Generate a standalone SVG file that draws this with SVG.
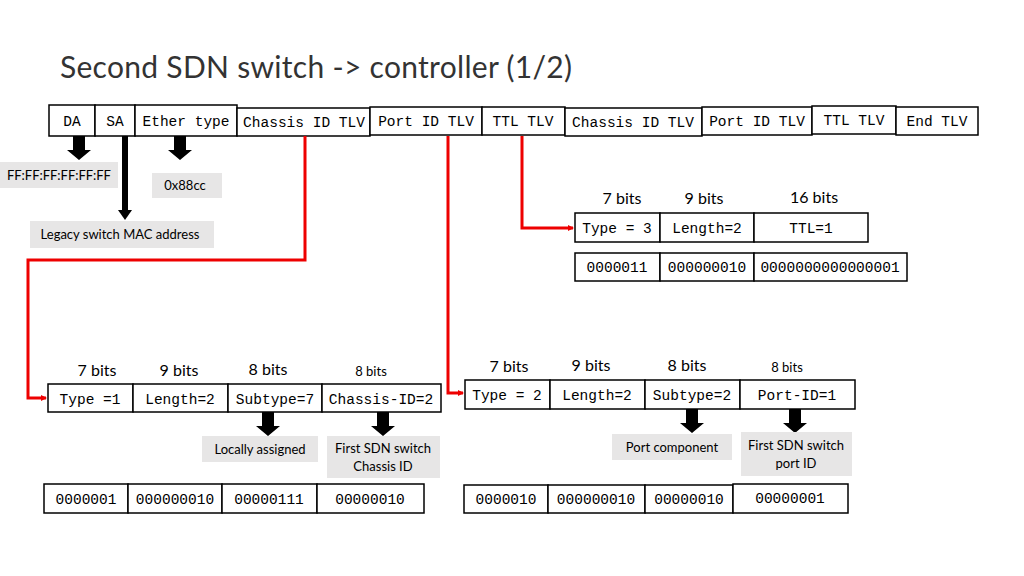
<svg xmlns="http://www.w3.org/2000/svg" width="1024" height="576" viewBox="0 0 1024 576">
<style>
.b{fill:#fff;stroke:#000;stroke-width:1.5}
.m{font-family:"Liberation Mono","DejaVu Sans Mono",monospace;font-size:14.5px;text-anchor:middle}
.s{font-family:Lato,"Liberation Sans",sans-serif;font-size:13px;text-anchor:middle}
.h{font-family:Lato,"Liberation Sans",sans-serif;font-size:16px;text-anchor:middle}
.g{fill:#e7e6e6}
.r{fill:none;stroke:#e00;stroke-width:3}
</style>
<defs>
<marker id="ra" markerWidth="6" markerHeight="6" refX="5" refY="3" orient="auto" markerUnits="userSpaceOnUse"><path d="M0,0L6,3L0,6z" fill="#e00"/></marker>
<path id="ba" d="M-6,0H6V14H12L0,24L-12,14H-6z" fill="#000"/>
</defs>
<text x="60" y="78" font-family="Lato,'Liberation Sans',sans-serif" font-size="30" fill="#333" textLength="512">Second SDN switch -&gt; controller (1/2)</text>
<g id="frame">
<rect class="b" x="49" y="105" width="46" height="31"/><text class="m" x="72" y="126">DA</text>
<rect class="b" x="95" y="105" width="40" height="31"/><text class="m" x="115" y="126">SA</text>
<rect class="b" x="135" y="105" width="102" height="31"/><text class="m" x="186" y="126">Ether type</text>
<rect class="b" x="237" y="108" width="133" height="28"/><text class="m" x="304" y="127">Chassis ID TLV</text>
<rect class="b" x="370" y="107" width="112" height="28"/><text class="m" x="426" y="126">Port ID TLV</text>
<rect class="b" x="482" y="107" width="83" height="28"/><text class="m" x="523" y="126">TTL TLV</text>
<rect class="b" x="565" y="108" width="137" height="28"/><text class="m" x="633" y="127">Chassis ID TLV</text>
<rect class="b" x="702" y="107" width="110" height="28"/><text class="m" x="757" y="126">Port ID TLV</text>
<rect class="b" x="812" y="106" width="84" height="28"/><text class="m" x="854" y="125">TTL TLV</text>
<rect class="b" x="896" y="107" width="82" height="28"/><text class="m" x="937" y="126">End TLV</text>
</g>
<g id="annot">
<use href="#ba" x="79" y="136"/>
<rect class="g" x="0" y="162" width="118" height="26"/><text class="s" x="59" y="180">FF:FF:FF:FF:FF:FF</text>
<rect x="122" y="136" width="6" height="76"/><path d="M118,210H132L125,220z"/>
<rect class="g" x="30" y="221" width="184" height="27"/><text class="s" x="120" y="239">Legacy switch MAC address</text>
<use href="#ba" x="180" y="136"/>
<rect class="g" x="152" y="173" width="70" height="25"/><text class="s" x="185" y="190">0x88cc</text>
</g>
<g id="connectors">
<path class="r" d="M305,136V260H28V398H46" marker-end="url(#ra)"/>
<path class="r" d="M448,136V393H463" marker-end="url(#ra)"/>
<path class="r" d="M522,136V228H573" marker-end="url(#ra)"/>
</g>
<g id="ttl">
<text class="h" x="622" y="204">7 bits</text><text class="h" x="704" y="204">9 bits</text><text class="h" x="814" y="203">16 bits</text>
<rect class="b" x="575" y="213" width="85" height="29"/><text class="m" x="617" y="233">Type = 3</text>
<rect class="b" x="660" y="213" width="94" height="29"/><text class="m" x="707" y="233">Length=2</text>
<rect class="b" x="754" y="213" width="114" height="29"/><text class="m" x="811" y="233">TTL=1</text>
<rect class="b" x="575" y="253" width="85" height="28"/><text class="m" x="617" y="272">0000011</text>
<rect class="b" x="660" y="253" width="94" height="28"/><text class="m" x="707" y="272">000000010</text>
<rect class="b" x="754" y="253" width="153" height="28"/><text class="m" x="830" y="272">0000000000000001</text>
</g>
<g id="chassis">
<text class="h" x="97" y="376">7 bits</text><text class="h" x="179" y="376">9 bits</text><text class="h" x="268" y="375">8 bits</text><text class="s" x="371" y="376">8 bits</text>
<rect class="b" x="48" y="384" width="85" height="28"/><text class="m" x="90" y="404">Type =1</text>
<rect class="b" x="133" y="384" width="95" height="28"/><text class="m" x="180" y="404">Length=2</text>
<rect class="b" x="228" y="384" width="94" height="28"/><text class="m" x="275" y="404">Subtype=7</text>
<rect class="b" x="322" y="384" width="119" height="28"/><text class="m" x="381" y="404">Chassis-ID=2</text>
<use href="#ba" x="268" y="412"/><use href="#ba" x="383" y="412"/>
<rect class="g" x="202" y="436" width="116" height="26"/><text class="s" x="260" y="454">Locally assigned</text>
<rect class="g" x="327" y="436" width="113" height="42"/><text class="s" x="383" y="453">First SDN switch</text><text class="s" x="383" y="471">Chassis ID</text>
<rect class="b" x="44" y="484" width="84" height="29"/><text class="m" x="86" y="504">0000001</text>
<rect class="b" x="128" y="484" width="94" height="29"/><text class="m" x="175" y="504">000000010</text>
<rect class="b" x="222" y="484" width="95" height="29"/><text class="m" x="269" y="504">00000111</text>
<rect class="b" x="317" y="484" width="107" height="29"/><text class="m" x="370" y="504">00000010</text>
</g>
<g id="port">
<text class="h" x="509" y="372">7 bits</text><text class="h" x="591" y="371">9 bits</text><text class="h" x="687" y="371">8 bits</text><text class="s" x="787" y="372">8 bits</text>
<rect class="b" x="465" y="380" width="85" height="29"/><text class="m" x="507" y="400">Type = 2</text>
<rect class="b" x="550" y="380" width="95" height="29"/><text class="m" x="597" y="400">Length=2</text>
<rect class="b" x="645" y="380" width="95" height="29"/><text class="m" x="692" y="400">Subtype=2</text>
<rect class="b" x="740" y="380" width="115" height="29"/><text class="m" x="797" y="400">Port-ID=1</text>
<use href="#ba" x="692" y="409"/><use href="#ba" x="795" y="409"/>
<rect class="g" x="612" y="434" width="120" height="26"/><text class="s" x="672" y="452">Port component</text>
<rect class="g" x="741" y="432" width="111" height="44"/><text class="s" x="796" y="450">First SDN switch</text><text class="s" x="796" y="468">port ID</text>
<rect class="b" x="464" y="485" width="84" height="28"/><text class="m" x="506" y="504">0000010</text>
<rect class="b" x="548" y="485" width="97" height="28"/><text class="m" x="596" y="504">000000010</text>
<rect class="b" x="645" y="485" width="88" height="28"/><text class="m" x="689" y="504">00000010</text>
<rect class="b" x="733" y="484" width="115" height="29"/><text class="m" x="790" y="503">00000001</text>
</g>
</svg>
